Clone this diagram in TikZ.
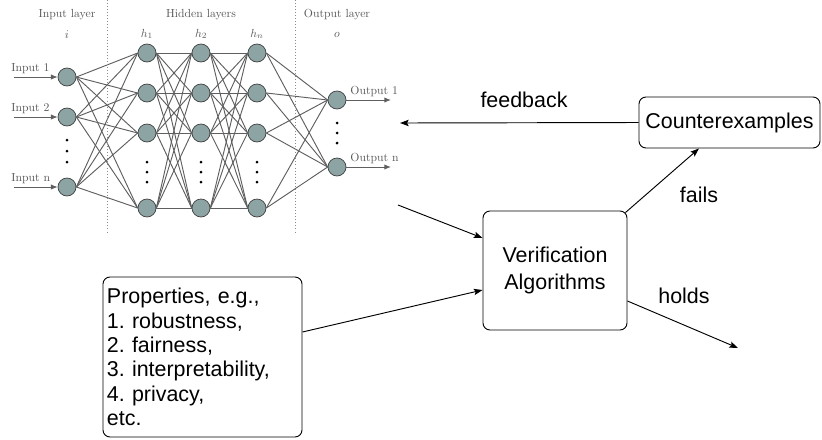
\documentclass[tikz,border=0pt]{standalone}
\usepackage{fontspec}
\newfontfamily\flowfont{Liberation Sans}
\usetikzlibrary{arrows.meta,positioning}
\definecolor{neuron}{RGB}{141,164,164}
\definecolor{wire}{RGB}{95,95,95}
\frenchspacing

\begin{document}
\begin{tikzpicture}[
  x=0.03cm,y=-0.03cm,
  unit/.style={circle,draw=black!75,line width=0.6pt,fill=neuron,minimum size=0.54cm,inner sep=0pt},
  synapse/.style={draw=wire,line width=0.8pt},
  feed/.style={synapse,-{Latex[length=0.2cm,width=0.16cm]}},
  layertext/.style={text=black!65,inner sep=1pt},
  box/.style={rectangle,draw,line width=0.8pt,rounded corners=6pt,font=\flowfont\fontsize{18.3}{23}\selectfont,align=center},
  flowtext/.style={font=\flowfont\fontsize{18.3}{22}\selectfont,inner sep=0pt},
  arrow/.style={-{Stealth[length=0.26cm,width=0.19cm,inset=0.05cm]},line width=0.8pt}
]
\useasboundingbox (0,0) rectangle (822,439);

% network layers
\foreach \n/\y in {1/77,2/117,3/187}
  \node[unit] (in\n) at (67,\y) {};
\foreach \l/\x in {1/147,2/201,3/257}
  \foreach \n/\y in {1/53,2/93,3/133,4/208}
    \node[unit] (h\l-\n) at (\x,\y) {};
\foreach \n/\y in {1/100,2/167}
  \node[unit] (out\n) at (337,\y) {};

% skipped units
\foreach \y in {140,151,162} \fill (67,\y) circle (1.5);
\foreach \x in {147,201,257}
  \foreach \y in {162,172,182} \fill (\x,\y) circle (1.5);
\foreach \y in {123,133,143} \fill (337,\y) circle (1.5);

% weights
\foreach \a in {1,2,3}
  \foreach \b in {1,...,4}
    \draw[synapse] (in\a.east) -- (h1-\b.west);
\foreach \l/\m in {1/2,2/3}
  \foreach \a in {1,...,4}
    \foreach \b in {1,...,4}
      \draw[synapse] (h\l-\a.east) -- (h\m-\b.west);
\foreach \a in {1,...,4}
  \foreach \b in {1,2}
    \draw[synapse] (h3-\a.east) -- (out\b.west);

% inputs and outputs
\foreach \n/\y/\t in {1/77/1,2/117/2,3/187/n} {
  \coordinate (src\n) at (14,\y);
  \draw[feed] (src\n) -- (in\n.west);
  \node[layertext,anchor=south west] (lab-in\n) at ([xshift=-0.12cm,yshift=0.04cm]src\n) {Input \t};
}
\foreach \n/\y/\t in {1/100/1,2/167/n} {
  \coordinate (dst\n) at (391,\y);
  \draw[feed] (out\n.east) -- (dst\n);
  \node[layertext,anchor=south west] (lab-out\n) at ([xshift=0.08cm,yshift=0.04cm]out\n.east) {Output \t};
}

% layer separators and headings
\draw[dotted,black!45,line width=0.6pt] (107,0) -- (107,234);
\draw[dotted,black!45,line width=0.6pt] (295,0) -- (295,234);
\node[layertext] (lay-in) at (67,15) {Input layer};
\node[layertext] (lay-hid) at (201,15) {Hidden layers};
\node[layertext] (lay-out) at (337,15) {Output layer};
\node[layertext] (sym-in) at (67,35) {$i$};
\node[layertext] (sym-h1) at (147,34) {$h_1$};
\node[layertext] (sym-h2) at (201,34) {$h_2$};
\node[layertext] (sym-hn) at (257,34) {$h_n$};
\node[layertext] (sym-out) at (337,35) {$o$};

% verification loop
\node[box,minimum width=5.43cm,minimum height=1.53cm] (cex) at (729.5,122.5) {Counterexamples};
\node[box,minimum width=4.32cm,minimum height=3.57cm] (verif) at (555,270.5) {Verification\\Algorithms};
\node[box,align=left,text width=5.73cm,inner xsep=0.12cm,minimum height=4.8cm,font=\flowfont\fontsize{18.3}{20.8}\selectfont] (props) at (202.5,357)
  {Properties, e.g.,\\1. robustness,\\2. fairness,\\3. interpretability,\\4. privacy,\\etc.};

\coordinate (nnfeed) at (400,123);
\coordinate (nnout) at (398,205);
\coordinate (safe) at (738,348);

\draw[arrow] (cex.west) -- (nnfeed);
\draw[arrow] (nnout) -- ([yshift=0.975cm]verif.west);
\draw[arrow] ([yshift=0.75cm]props.east) -- ([yshift=-0.585cm]verif.west);
\draw[arrow] ([xshift=-0.06cm,yshift=-0.06cm]verif.north east) -- ([xshift=-0.915cm]cex.south);
\draw[arrow] ([yshift=-0.915cm]verif.east) -- (safe);

\node[flowtext] (fb) at (524,100) {feedback};
\node[flowtext] (fl) at (699,195) {fails};
\node[flowtext] (hd) at (684,296) {holds};
\end{tikzpicture}
\end{document}
